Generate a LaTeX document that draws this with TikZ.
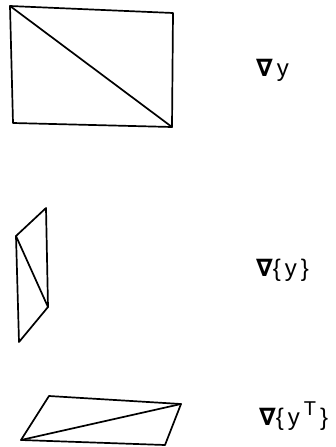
\documentclass[tikz,border=0pt]{standalone}
\usepackage{fontspec}
\setmainfont{Liberation Sans}
\newfontfamily\nablafont{DejaVu Sans}
\newcommand{\gradsym}{{\nablafont\bfseries ∇}}
\newcommand{\supT}{\raisebox{0.42em}{\fontsize{20}{22}\selectfont T}}
\begin{document}
\begin{tikzpicture}[x=1pt,y=-1pt,
  shape line/.style={line width=1.7pt,line join=round,line cap=round},
  lbl/.style={anchor=west,inner sep=0pt,font=\fontsize{24}{28}\selectfont}]
\useasboundingbox (0,0) rectangle (335,447);
% first: rectangle
\coordinate (a1) at (10,6);
\coordinate (a2) at (173,13);
\coordinate (a3) at (172,127);
\coordinate (a4) at (13,123);
\draw[shape line] (a1) -- (a2) -- (a3) -- (a4) -- cycle;
\draw[shape line] (a1) -- (a3);
% second: narrow parallelogram
\coordinate (b1) at (46,208);
\coordinate (b2) at (16,236);
\coordinate (b3) at (19,342);
\coordinate (b4) at (48,307);
\draw[shape line] (b1) -- (b2) -- (b3) -- (b4) -- cycle;
\draw[shape line] (b2) -- (b4);
% third: flat parallelogram
\coordinate (c1) at (49,396);
\coordinate (c2) at (181,404);
\coordinate (c3) at (165,445);
\coordinate (c4) at (21,440);
\draw[shape line] (c1) -- (c2) -- (c3) -- (c4) -- cycle;
\draw[shape line] (c4) -- (c2);
% labels
\node[lbl] (l1) at (256,70) {\gradsym\,y};
\node[lbl] (l2) at (256,270) {\gradsym\{\,y\,\}};
\node[lbl] (l3) at (259,416) {\gradsym\{\,y\,\supT\,\}};
\end{tikzpicture}
\end{document}
